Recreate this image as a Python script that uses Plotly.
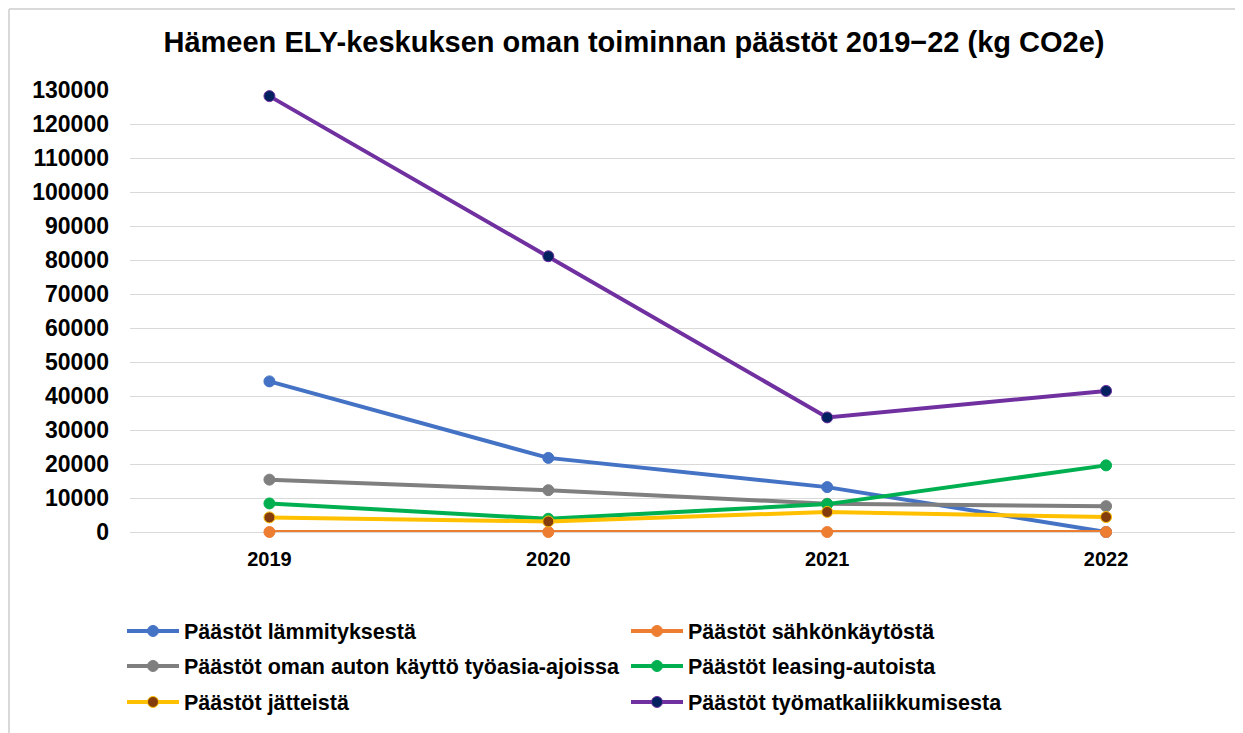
import plotly.graph_objects as go

years = ["2019", "2020", "2021", "2022"]
series_names = [
    "Päästöt lämmityksestä",
    "Päästöt sähkönkäytöstä",
    "Päästöt oman auton käyttö työasia-ajoissa",
    "Päästöt leasing-autoista",
    "Päästöt jätteistä",
    "Päästöt työmatkaliikkumisesta",
]
lammitys = [44300, 21800, 13200, 0]
sahko = [0, 0, 0, 0]
oma_auto = [15400, 12300, 8300, 7600]
leasing = [8400, 3900, 8200, 19600]
jatteet = [4300, 3100, 5900, 4400]
tyomatka = [128200, 81100, 33700, 41500]
values = [lammitys, sahko, oma_auto, leasing, jatteet, tyomatka]

line_colors = ["#4472C4", "#ED7D31", "#7F7F7F", "#00B050", "#FFC000", "#7030A0"]
marker_colors = ["#4472C4", "#ED7D31", "#7F7F7F", "#00B050", "#843C0C", "#002060"]
legend_ids = ["legend", "legend", "legend2", "legend2", "legend3", "legend3"]

tick_vals = list(range(0, 130001, 10000))

W, H = 1235, 725
L, T, B = 122, 82, 201
PW = W - L
PH = H - T - B

fig = go.Figure()
for name, vals, lc, mc, lg in zip(series_names, values, line_colors, marker_colors, legend_ids):
    fig.add_trace(go.Scatter(
        x=years, y=vals, name=name, mode="lines+markers",
        line=dict(color=lc, width=4),
        marker=dict(color=mc, size=11, line=dict(color=lc, width=1)),
        cliponaxis=False, legend=lg,
    ))

def legend_row(ypx):
    return dict(
        orientation="h", x=-8 / PW, xanchor="left",
        y=(H - B - ypx) / PH, yanchor="middle",
        entrywidth=437, entrywidthmode="pixels",
        font=dict(size=21.5, color="#000000", weight="bold"),
        itemwidth=52, bgcolor="rgba(0,0,0,0)",
    )

fig.update_layout(
    width=W, height=H,
    paper_bgcolor="white", plot_bgcolor="white",
    margin=dict(l=L, r=0, t=T, b=B),
    font=dict(family="Liberation Sans, Arial, sans-serif", color="#000000"),
    title=dict(
        text="<b>Hämeen ELY-keskuksen oman toiminnan päästöt 2019−22 (kg CO2e)</b>",
        x=626 / W, xanchor="center", y=1 - 34 / H, yanchor="middle",
        font=dict(size=29, color="#000000"),
    ),
    xaxis=dict(
        type="category", range=[-0.5, 3.491],
        showgrid=False, showline=False, zeroline=False,
        tickfont=dict(size=20, color="#000000", weight="bold"),
        ticklabelstandoff=13,
    ),
    yaxis=dict(
        range=[0, 130000], tickvals=tick_vals,
        ticktext=[str(v) for v in tick_vals],
        showgrid=True, gridcolor="#D9D9D9", gridwidth=1,
        zeroline=True, zerolinecolor="#D9D9D9", zerolinewidth=1,
        showline=False,
        tickfont=dict(size=23, color="#000000", weight="bold"),
        ticklabelstandoff=20,
    ),
    legend=legend_row(623),
    legend2=legend_row(658),
    legend3=legend_row(694),
    shapes=[
        dict(type="line", xref="paper", yref="paper",
             x0=(1 - L) / PW, x1=1.01, y0=(H - B - 1) / PH, y1=(H - B - 1) / PH,
             line=dict(color="#D9D9D9", width=2)),
        dict(type="line", xref="paper", yref="paper",
             x0=(1 - L) / PW, x1=(1 - L) / PW, y0=(H - B - 1) / PH, y1=-0.5,
             line=dict(color="#D9D9D9", width=2)),
    ],
)

fig.write_html("out.html")
